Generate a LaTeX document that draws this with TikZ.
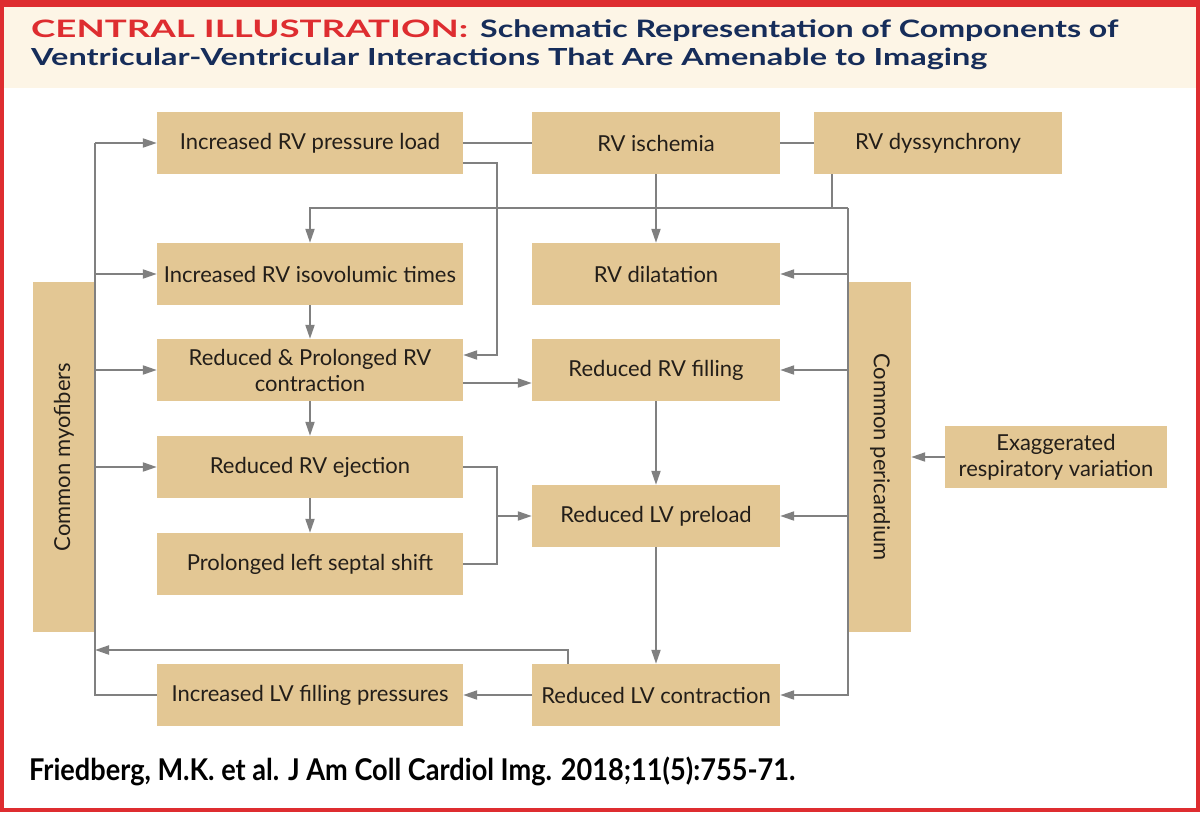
\documentclass[tikz,border=0pt]{standalone}
\usepackage{fontspec}
\setmainfont{Lato}
\usepackage{graphicx}
\usetikzlibrary{arrows.meta}
\definecolor{jred}{RGB}{222,45,48}
\definecolor{cream}{RGB}{253,245,230}
\definecolor{navy}{RGB}{22,45,90}
\definecolor{tan}{RGB}{227,199,148}
\definecolor{lgray}{RGB}{128,128,128}
\definecolor{dk}{RGB}{35,30,25}
\begin{document}
\begin{tikzpicture}[x=1pt,y=-1pt,
  box/.style={fill=tan, text=dk, inner sep=0pt, align=center,
    font=\fontsize{22}{26}\selectfont},
  wbox/.style={box, minimum width=306pt, minimum height=62pt},
  nbox/.style={box, minimum width=248pt, minimum height=62pt},
  ln/.style={draw=lgray, line width=2pt},
  arr/.style={-{Triangle[length=14pt,width=9pt]}}]
\useasboundingbox (0,0) rectangle (1200,812);
\fill[jred] (0,0) rectangle (1200,812);
\fill[white] (4,7) rectangle (1196,808);
\fill[cream] (4,7) rectangle (1196,88);
% title
\node[anchor=base west, inner sep=0pt, text=jred] (t1) at (31,37)
  {\fontsize{24}{26}\selectfont\bfseries\resizebox{437pt}{\height}{CENTRAL ILLUSTRATION:}};
\node[anchor=base west, inner sep=0pt, text=navy] (t2) at (480,37)
  {\fontsize{24}{26}\selectfont\bfseries\resizebox{638pt}{\height}{Schematic Representation of Components of}};
\node[anchor=base west, inner sep=0pt, text=navy] (t3) at (31,65)
  {\fontsize{23.5}{26}\selectfont\bfseries\resizebox{956pt}{\height}{Ventricular-Ventricular Interactions That Are Amenable to Imaging}};
% footer
\node[anchor=base west, inner sep=0pt, text=black] (ft) at (29,780)
  {\fontsize{30}{32}\selectfont\bfseries\resizebox{766pt}{\height}{Friedberg, M.K. et al. J Am Coll Cardiol Img. 2018;11(5):755-71.}};
% boxes
\node[wbox] (pl) at (310,143) {Increased RV pressure load};
\node[nbox] (isc) at (656,143) {RV ischemia};
\node[nbox] (dys) at (938,143) {RV dyssynchrony};
\node[wbox] (iso) at (310,274) {Increased RV isovolumic times};
\node[nbox] (dil) at (656,274) {RV dilatation};
\node[wbox] (rpc) at (310,370) {Reduced \& Prolonged RV\\contraction};
\node[nbox] (rfill) at (656,370) {Reduced RV filling};
\node[wbox] (ej) at (310,467) {Reduced RV ejection};
\node[nbox] (lvp) at (656,516) {Reduced LV preload};
\node[wbox] (sep) at (310,564) {Prolonged left septal shift};
\node[wbox] (lvfp) at (310,695) {Increased LV filling pressures};
\node[nbox] (lvc) at (656,695) {Reduced LV contraction};
\node[box, rotate=90, minimum width=350pt, minimum height=62pt] (myo) at (64,457) {Common myofibers};
\node[box, rotate=-90, minimum width=350pt, minimum height=62pt] (peri) at (880,457) {Common pericardium};
\node[box, minimum width=222pt, minimum height=62pt] (exag) at (1056,457) {Exaggerated\\respiratory variation};
% coordinates
\coordinate (L1) at (95,143);
\coordinate (L2) at (95,695);
\coordinate (R1) at (848,208);
\coordinate (R2) at (848,695);
\coordinate (D1) at (832,208);
\coordinate (J1) at (497,163);
\coordinate (J2) at (497,355);
\coordinate (K1) at (497,383);
\coordinate (J3) at (497,467);
\coordinate (J4) at (497,564);
\coordinate (J5) at (497,516);
\coordinate (F1) at (568,650);
% left bus
\draw[ln] (lvfp.west) -- (L2) -- (L1);
\draw[ln,arr] (L1) -- (pl.west);
\draw[ln,arr] (L1 |- iso.west) -- (iso.west);
\draw[ln,arr] (L1 |- rpc.west) -- (rpc.west);
\draw[ln,arr] (L1 |- ej.west) -- (ej.west);
% top row
\draw[ln] (pl.east) -- (isc.west);
\draw[ln] (isc.east) -- (dys.west);
\draw[ln,arr] (isc.south) -- (dil.north);
\draw[ln] (dys.south -| D1) -- (D1);
\draw[ln,arr] (R1) -- (R1 -| iso.north) -- (iso.north);
% right bus
\draw[ln,arr] (R1) -- (R2) -- (lvc.east);
\draw[ln,arr] (R1 |- dil.east) -- (dil.east);
\draw[ln,arr] (R1 |- rfill.east) -- (rfill.east);
\draw[ln,arr] (R1 |- lvp.east) -- (lvp.east);
\draw[ln,arr] (exag.west) -- (peri.north);
% pressure load to contraction
\draw[ln,arr] (pl.east |- J1) -- (J1) -- (J2) -- (rpc.east |- J2);
% left column chain
\draw[ln,arr] (iso.south) -- (rpc.north);
\draw[ln,arr] (rpc.south) -- (ej.north);
\draw[ln,arr] (ej.south) -- (sep.north);
\draw[ln,arr] (rpc.east |- K1) -- (rfill.west |- K1);
\draw[ln] (ej.east |- J3) -- (J3) -- (J4) -- (sep.east |- J4);
\draw[ln,arr] (J5) -- (lvp.west |- J5);
% middle column chain
\draw[ln,arr] (rfill.south) -- (lvp.north);
\draw[ln,arr] (lvp.south) -- (lvc.north);
\draw[ln,arr] (lvc.west) -- (lvfp.east);
\draw[ln,arr] (lvc.north -| F1) -- (F1) -- (L1 |- F1);
\end{tikzpicture}
\end{document}
